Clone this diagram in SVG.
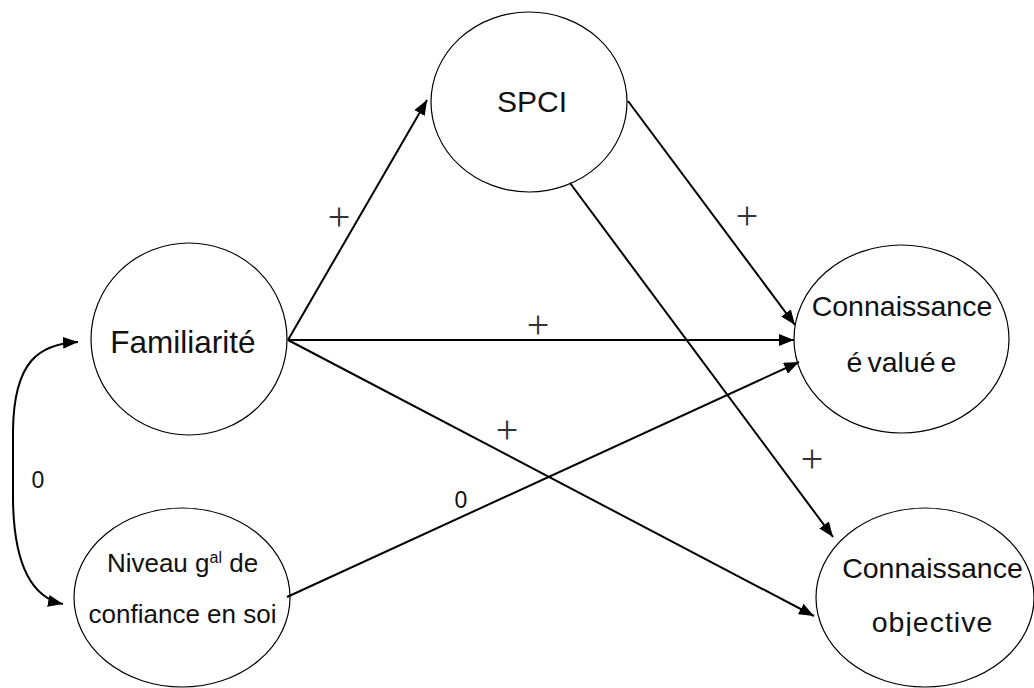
<svg xmlns="http://www.w3.org/2000/svg" width="1034" height="688" viewBox="0 0 1034 688">
  <style>
    .node { fill: #ffffff; stroke: #000000; stroke-width: 1.2; }
    .label { font-family: "Liberation Sans", Arial, sans-serif; fill: #111111; text-anchor: middle; }
    .edge { fill: none; stroke: #000000; stroke-width: 2; }
    .sign { font-family: "Liberation Serif", "Times New Roman", serif; font-size: 40px; fill: #333333; text-anchor: middle; }
    .zero { font-family: "Liberation Sans", Arial, sans-serif; font-size: 23px; fill: #111111; text-anchor: middle; }
  </style>
  <defs>
    <marker id="arrow" markerUnits="userSpaceOnUse" viewBox="0 0 15 12" markerWidth="15" markerHeight="12" refX="15" refY="6" orient="auto-start-reverse">
      <path d="M0,0 L15,6 L0,12 z" fill="#000000"/>
    </marker>
    <clipPath id="clip-objective">
      <rect x="800" y="500" width="234" height="136"/>
    </clipPath>
  </defs>

  <rect width="1034" height="688" fill="#ffffff"/>

  <!-- nodes -->
  <g id="familiarite">
    <ellipse class="node" cx="189" cy="339" rx="98" ry="96"/>
    <text class="label" x="183" y="353" font-size="31.5">Familiarité</text>
  </g>
  <g id="niveau-confiance">
    <ellipse class="node" cx="182" cy="597.5" rx="108" ry="89.5"/>
    <text class="label" x="182.5" y="572" font-size="26">Niveau g<tspan font-size="16" dy="-9">al</tspan><tspan dy="9"> de</tspan></text>
    <text class="label" x="182.5" y="623" font-size="26">confiance en soi</text>
  </g>
  <g id="spci">
    <ellipse class="node" cx="529" cy="102" rx="98" ry="90"/>
    <text class="label" x="532" y="112" font-size="30">SPCI</text>
  </g>
  <g id="connaissance-evaluee">
    <ellipse class="node" cx="901.5" cy="339" rx="107.5" ry="94"/>
    <text class="label" x="902" y="316" font-size="28.5">Connaissance</text>
    <text class="label" x="901.5" y="372" font-size="28.5">é<tspan dx="5">valué</tspan><tspan dx="5">e</tspan></text>
  </g>
  <g id="connaissance-objective">
    <ellipse class="node" cx="925" cy="597.5" rx="109" ry="89.5"/>
    <text class="label" x="932.5" y="578" font-size="28.5">Connaissance</text>
    <text class="label" x="932.5" y="632" font-size="28.5" letter-spacing="1" clip-path="url(#clip-objective)">objective</text>
  </g>

  <!-- connectors -->
  <g id="connectors">
    <line class="edge" x1="288" y1="340" x2="427" y2="100" marker-end="url(#arrow)"/>
    <line class="edge" x1="288" y1="340" x2="794" y2="340" marker-end="url(#arrow)"/>
    <line class="edge" x1="288" y1="340" x2="814" y2="616" marker-end="url(#arrow)"/>
    <line class="edge" x1="628" y1="101" x2="795" y2="325" marker-end="url(#arrow)"/>
    <line class="edge" x1="570" y1="183" x2="833" y2="537" marker-end="url(#arrow)"/>
    <line class="edge" x1="287" y1="597" x2="799" y2="362" marker-end="url(#arrow)"/>
    <path class="edge" d="M78,342 C40,344 14,360 13,430 L13,500 C14,570 34,598 63,604" marker-start="url(#arrow)" marker-end="url(#arrow)"/>
  </g>

  <!-- path coefficients -->
  <g id="edge-labels">
    <text class="sign" x="339" y="230">+</text>
    <text class="sign" x="538" y="338">+</text>
    <text class="sign" x="507" y="443">+</text>
    <text class="sign" x="747" y="229">+</text>
    <text class="sign" x="812" y="472">+</text>
    <text class="zero" x="38" y="488">0</text>
    <text class="zero" x="461" y="508">0</text>
  </g>
</svg>
